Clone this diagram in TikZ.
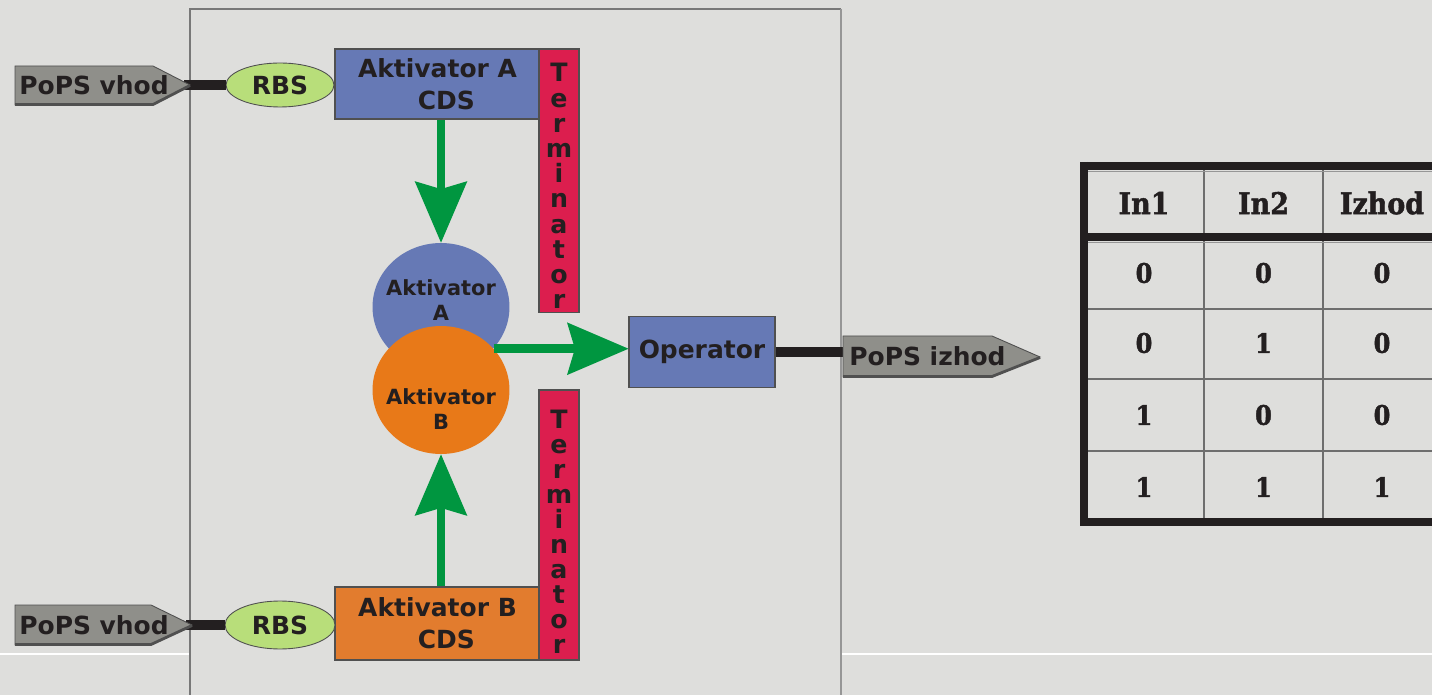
\documentclass[tikz,border=0pt]{standalone}
\usepackage{fontspec}
\setmainfont{DejaVu Sans}
\newfontfamily\tabfont[FakeStretch=0.9,FakeBold=1.6]{DejaVu Serif}
\usetikzlibrary{shapes.geometric,arrows.meta}
\definecolor{bg}{RGB}{222,222,220}
\definecolor{boxblue}{RGB}{102,121,181}
\definecolor{boxorange}{RGB}{226,124,46}
\definecolor{circorange}{RGB}{232,121,24}
\definecolor{termred}{RGB}{220,30,78}
\definecolor{arrgreen}{RGB}{0,150,64}
\definecolor{rbsgreen}{RGB}{184,222,122}
\definecolor{popsgray}{RGB}{143,143,138}
\definecolor{txt}{RGB}{35,31,32}
\definecolor{edge}{RGB}{80,80,80}
\definecolor{framegray}{RGB}{150,150,150}
\definecolor{thingray}{RGB}{110,110,110}
\begin{document}
\begin{tikzpicture}[x=0.02cm,y=-0.02cm,
  lbl/.style={font=\bfseries\fontsize{14.2}{18.1}\selectfont, text=txt, align=center, inner sep=0pt},
  cds/.style={draw=edge, line width=0.6pt, minimum width=4.1cm, lbl},
  term/.style={draw=edge, line width=0.6pt, fill=termred, minimum width=0.8cm, inner sep=0pt},
  termletter/.style={font=\bfseries\fontsize{14.4}{14.4}\selectfont, text=txt, anchor=base, inner sep=0pt},
  rbs/.style={ellipse, draw=edge, line width=0.5pt, fill=rbsgreen, lbl},
  prot/.style={ellipse, inner sep=0pt, minimum width=2.74cm, minimum height=2.56cm},
  protlbl/.style={font=\bfseries\fontsize{11.9}{14.7}\selectfont, text=txt, align=center, inner sep=0pt},
  pops/.style={fill=popsgray, draw=edge, line width=0.5pt},
  popsshadow/.style={draw=edge, line width=1.6pt},
  popslbl/.style={lbl, anchor=west},
  wire/.style={line width=6.2pt, draw=txt},
  garrow/.style={draw=arrgreen, line width=5.1pt, -{Stealth[length=35pt, width=30pt, inset=4.5pt, line width=0pt]}},
  tborder/.style={line width=4.5pt, draw=txt},
  tthin/.style={line width=1.4pt, draw=thingray},
  thead/.style={font=\tabfont\bfseries\fontsize{17}{17}\selectfont, text=txt, inner sep=0pt},
  tcell/.style={font=\tabfont\bfseries\fontsize{15.3}{15.3}\selectfont, text=txt, inner sep=0pt}
]
% background
\fill[bg] (0,0) rectangle (1432,695);
\useasboundingbox (0,0) rectangle (1432,695);
\draw[white, line width=0.8pt] (0,654) -- (190,654);
\draw[white, line width=0.8pt] (842,654) -- (1432,654);
% frame
\draw[framegray!80!black, line width=0.8pt] (190,695) -- (190,9) -- (841,9);
\draw[framegray, line width=1.6pt] (841,9) -- (841,695);

% nodes
\node[cds, fill=boxblue, minimum height=1.4cm] (cdsA) at (437.5,84) {Aktivator A\\\hspace*{10pt}CDS};
\node[cds, fill=boxorange, minimum height=1.46cm] (cdsB) at (437.5,623.5) {Aktivator B\\\hspace*{10pt}CDS};
\node[term, minimum height=5.28cm] (termA) at (559,181) {};
\node[term, minimum height=5.4cm] (termB) at (559,525) {};
\foreach \l [count=\i from 0] in {T,e,r,m,i,n,a,t,o,r}
  \node[termletter] (tA\i) at (559,82+25.2*\i) {\l};
\foreach \l [count=\i from 0] in {T,e,r,m,i,n,a,t,o,r}
  \node[termletter] (tB\i) at (559,428+25.1*\i) {\l};
\node[rbs, minimum width=2.16cm, minimum height=0.88cm, inner sep=0pt] (rbsA) at (280,85) {RBS};
\node[rbs, minimum width=2.2cm, minimum height=0.96cm, inner sep=0pt] (rbsB) at (280,625) {RBS};
\node[prot, fill=boxblue] (circA) at (441,307) {};
\node[prot, fill=circorange] (circB) at (441,390) {};
\node[protlbl] (circAt) at (441,300) {Aktivator\\A};
\node[protlbl] (circBt) at (441,409) {Aktivator\\B};
\node[cds, fill=boxblue, minimum width=2.92cm, minimum height=1.42cm] (op) at (702,352) {Operator};

% green arrows
\draw[garrow] (cdsA.south -| circA.north) -- (circA.north);
\draw[garrow] (cdsB.north -| circB.south) -- (circB.south);
\draw[garrow] (circB.38) -- (circB.38 -| op.west);

% input wires and pentagons
\coordinate (tipA) at (184,85);
\coordinate (tipB) at (186,625);
\coordinate (outIn) at (846,352);
\draw[wire] (tipA) -- (rbsA.west);
\draw[wire] (tipB) -- (rbsB.west);
\draw[wire] (op.east) -- (outIn);

\draw[pops] (15,66) -- (153,66) -- (190,85) -- (153,105) -- (15,105) -- cycle;
\draw[popsshadow] (15,104.5) -- (153,104.5) -- (190,85.5);
\node[popslbl] (inA) at (19,85) {PoPS vhod};
\draw[pops] (15,605) -- (151,605) -- (192,625) -- (151,645) -- (15,645) -- cycle;
\draw[popsshadow] (15,644.5) -- (151,644.5) -- (192,625.5);
\node[popslbl] (inB) at (19,625) {PoPS vhod};
\draw[pops] (843,336) -- (992,336) -- (1040,357) -- (992,377) -- (843,377) -- cycle;
\draw[popsshadow] (843,376.5) -- (992,376.5) -- (1040,357.5);
\node[popslbl] (outP) at (849,356) {PoPS izhod};

% truth table
\draw[tthin] (1204,166) -- (1204,522);
\draw[tthin] (1323,166) -- (1323,522);
\draw[tthin] (1084,309) -- (1432,309);
\draw[tthin] (1084,379) -- (1432,379);
\draw[tthin] (1084,451) -- (1432,451);
\draw[framegray, line width=1pt] (1088,171.5) -- (1432,171.5);
\draw[framegray, line width=1pt] (1088,242.5) -- (1432,242.5);
\draw[tborder] (1084,162) -- (1084,526);
\draw[tborder] (1080,166) -- (1432,166);
\draw[tborder] (1080,237) -- (1432,237);
\draw[tborder] (1080,522) -- (1432,522);
\node[thead] (h1) at (1144,203) {In1};
\node[thead] (h2) at (1263.5,203) {In2};
\node[thead] (h3) at (1382,203) {Izhod};
\node[tcell] (c11) at (1144,273) {0};
\node[tcell] (c12) at (1263.5,273) {0};
\node[tcell] (c13) at (1382,273) {0};
\node[tcell] (c21) at (1144,343) {0};
\node[tcell] (c22) at (1263.5,343) {1};
\node[tcell] (c23) at (1382,343) {0};
\node[tcell] (c31) at (1144,415) {1};
\node[tcell] (c32) at (1263.5,415) {0};
\node[tcell] (c33) at (1382,415) {0};
\node[tcell] (c41) at (1144,487) {1};
\node[tcell] (c42) at (1263.5,487) {1};
\node[tcell] (c43) at (1382,487) {1};
\end{tikzpicture}
\end{document}
